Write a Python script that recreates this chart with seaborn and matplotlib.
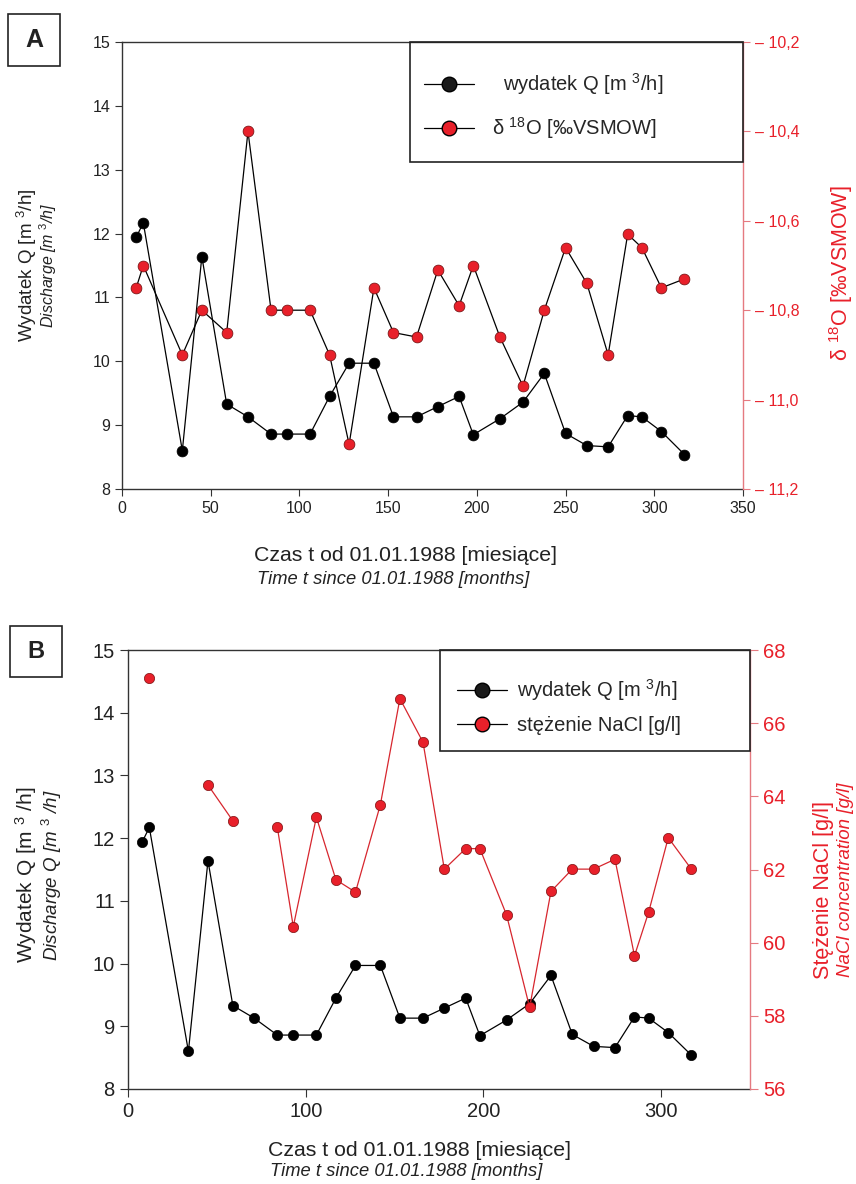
import numpy as np
import pandas as pd
import seaborn as sns
import matplotlib.pyplot as plt
from matplotlib.lines import Line2D
from matplotlib.patches import Rectangle
from matplotlib.ticker import FuncFormatter, MultipleLocator

# data
months = [8, 12, 34, 45, 59, 71, 84, 93, 106, 117, 128, 142, 153, 166, 178,
          190, 198, 213, 226, 238, 250, 262, 274, 285, 293, 304, 317]
discharge = [11.94, 12.17, 8.60, 11.64, 9.33, 9.13, 8.86, 8.86, 8.86, 9.45, 9.97,
             9.97, 9.13, 9.13, 9.29, 9.45, 8.85, 9.10, 9.36, 9.81, 8.87, 8.68,
             8.66, 9.15, 9.13, 8.90, 8.54]
d18o = [-10.75, -10.70, -10.90, -10.80, -10.85, -10.40, -10.80, -10.80, -10.80,
        -10.90, -11.10, -10.75, -10.85, -10.86, -10.71, -10.79, -10.70, -10.86,
        -10.97, -10.80, -10.66, -10.74, -10.90, -10.63, -10.66, -10.75, -10.73]
nacl = [np.nan, 67.23, np.nan, 64.31, 63.33, np.nan, 63.16, 60.44, 63.43, 61.72,
        61.38, 63.77, 66.67, 65.48, 62.01, 62.57, 62.57, 60.76, 58.23, 61.40,
        62.01, 62.01, 62.28, 59.64, 60.84, 62.87, 62.01]

sns.set_style("ticks")
plt.rcParams['font.family'] = ['Liberation Sans', 'DejaVu Sans']
plt.rcParams['mathtext.fontset'] = 'custom'
plt.rcParams['mathtext.rm'] = 'Liberation Sans'
plt.rcParams['mathtext.it'] = 'Liberation Sans:italic'
plt.rcParams['mathtext.bf'] = 'Liberation Sans:bold'

RED = '#e8202a'
PINK = '#e57a80'
DARK = '#333333'
INK = '#222222'

W, H = 856, 1184
fig = plt.figure(figsize=(W / 100, H / 100), dpi=100)


def fx(px):
    return px / W


def fy(py):
    return 1 - py / H


def axes_box(x0, y0, x1, y1):
    return [fx(x0), fy(y1), (x1 - x0) / W, (y1 - y0) / H]


def frame(x0, y0, x1, y1, lw=1.2):
    fig.add_artist(Rectangle((fx(x0), fy(y1)), (x1 - x0) / W, (y1 - y0) / H,
                             transform=fig.transFigure, fill=False, lw=lw, ec=INK))


def panel_letter(letter, x0, y0, x1, y1, size):
    frame(x0, y0, x1, y1)
    fig.text(fx((x0 + x1) / 2), fy((y0 + y1) / 2), letter, ha='center', va='center',
             size=size, weight='bold', color=INK)


def vtext(x, y, s, size, color=INK, style='normal'):
    fig.text(fx(x), fy(y), s, rotation=90, ha='center', va='center',
             size=size, color=color, style=style)


def htext(x, y, s, size, style='normal'):
    fig.text(fx(x), fy(y), s, ha='center', va='center', size=size, color=INK, style=style)


def handles():
    return [Line2D([], [], color='black', lw=0.9, marker='o', ms=10.5, mfc='#1a1a1a', mec='black'),
            Line2D([], [], color='black', lw=0.9, marker='o', ms=10.5, mfc=RED, mec='black')]


df = pd.DataFrame({'t': months, 'Q': discharge, 'd18O': d18o, 'NaCl': nacl})
# break the NaCl line where samples are missing
df['seg'] = df['NaCl'].isna().cumsum()
nacl_df = df.dropna(subset=['NaCl'])

# ---------------- panel A ----------------
axA = fig.add_axes(axes_box(122, 42, 743, 489))
sns.lineplot(data=df, x='t', y='Q', ax=axA, estimator=None, color='black', lw=0.9,
             marker='o', ms=7.8, mec='black', mew=0.5)
axA.set_xlim(0, 350)
axA.set_ylim(8, 15)
axA.xaxis.set_major_locator(MultipleLocator(50))
axA.yaxis.set_major_locator(MultipleLocator(1))
axA.set_xlabel('')
axA.set_ylabel('')
axA.tick_params(labelsize=11.5, length=5, width=0.8, color=DARK, labelcolor=INK)
for s in ['left', 'bottom', 'top']:
    axA.spines[s].set_color(DARK)
    axA.spines[s].set_linewidth(1.0)
axA.spines['right'].set_visible(False)

axA2 = axA.twinx()
sns.lineplot(data=df, x='t', y='d18O', ax=axA2, estimator=None, color='black', lw=0.9,
             marker='o', ms=7.8, mfc=RED, mec='#6a0d0d', mew=0.5)
axA2.set_ylim(-11.2, -10.2)
axA2.yaxis.set_major_locator(MultipleLocator(0.2))
axA2.yaxis.set_major_formatter(FuncFormatter(lambda v, _: '– ' + f'{abs(v):.1f}'.replace('.', ',')))
axA2.set_ylabel('')
axA2.tick_params(axis='y', labelsize=11.5, length=5, width=0.8, color=PINK, labelcolor=RED)
for s in ['left', 'bottom', 'top']:
    axA2.spines[s].set_visible(False)
axA2.spines['right'].set_color(PINK)
axA2.spines['right'].set_linewidth(1.0)

axA2.legend(handles(), ['  wydatek Q [m $^3$/h]', 'δ $^{18}$O [‰VSMOW]'],
            loc='upper left', bbox_to_anchor=(fx(424), fy(71)), bbox_transform=fig.transFigure,
            borderaxespad=0, borderpad=0, frameon=False, fontsize=14.5,
            labelspacing=0.9, handlelength=2.5, handletextpad=0.9)
frame(410, 42, 743, 162)

panel_letter('A', 8, 14, 60, 66, 18)
vtext(27, 265, 'Wydatek Q [m $^3$/h]', 13.5)
vtext(48, 265, 'Discharge [m $^3$/h]', 11.5, style='italic')
vtext(841, 273, 'δ $^{18}$O [‰VSMOW]', 15.5, color=RED)
htext(406, 556, 'Czas t od 01.01.1988 [miesiące]', 15.3)
htext(393, 579, 'Time t since 01.01.1988 [months]', 13.2, style='italic')

# ---------------- panel B ----------------
axB = fig.add_axes(axes_box(128, 650, 750, 1089))
sns.lineplot(data=df, x='t', y='Q', ax=axB, estimator=None, color='black', lw=0.9,
             marker='o', ms=7.4, mec='black', mew=0.5)
axB.set_xlim(0, 350)
axB.set_ylim(8, 15)
axB.xaxis.set_major_locator(MultipleLocator(100))
axB.yaxis.set_major_locator(MultipleLocator(1))
axB.set_xlabel('')
axB.set_ylabel('')
axB.tick_params(labelsize=14.5, length=6, width=0.8, color=DARK, labelcolor=INK)
for s in ['left', 'bottom', 'top']:
    axB.spines[s].set_color(DARK)
    axB.spines[s].set_linewidth(1.0)
axB.spines['right'].set_visible(False)

axB2 = axB.twinx()
sns.lineplot(data=nacl_df, x='t', y='NaCl', units='seg', ax=axB2, estimator=None,
             color='#d7262e', lw=0.9, marker='o', ms=7.4, mfc=RED, mec='#7a1010', mew=0.5)
axB2.set_ylim(56, 68)
axB2.yaxis.set_major_locator(MultipleLocator(2))
axB2.set_ylabel('')
axB2.tick_params(axis='y', labelsize=14.5, length=6, width=0.8, color=PINK, labelcolor=RED)
for s in ['left', 'bottom', 'top']:
    axB2.spines[s].set_visible(False)
axB2.spines['right'].set_color(PINK)
axB2.spines['right'].set_linewidth(1.0)

axB2.legend(handles(), ['wydatek Q [m $^3$/h]', 'stężenie NaCl [g/l]'],
            loc='upper left', bbox_to_anchor=(fx(457), fy(677)), bbox_transform=fig.transFigure,
            borderaxespad=0, borderpad=0, frameon=False, fontsize=14.5,
            labelspacing=0.65, handlelength=2.5, handletextpad=0.5)
frame(440, 650, 750, 751)

panel_letter('B', 10, 626, 62, 677, 17)
vtext(26, 875, 'Wydatek Q [m $^3$ /h]', 15)
vtext(52, 875, 'Discharge Q [m $^3$ /h]', 13.5, style='italic')
vtext(823, 890, 'Stężenie NaCl [g/l]', 15.5, color=RED)
vtext(845, 880, 'NaCl concentration [g/l]', 13.5, color=RED, style='italic')
htext(419, 1150, 'Czas t od 01.01.1988 [miesiące]', 15.3)
htext(406, 1172, 'Time t since 01.01.1988 [months]', 13.2, style='italic')

fig.savefig('out.png', dpi=100)
